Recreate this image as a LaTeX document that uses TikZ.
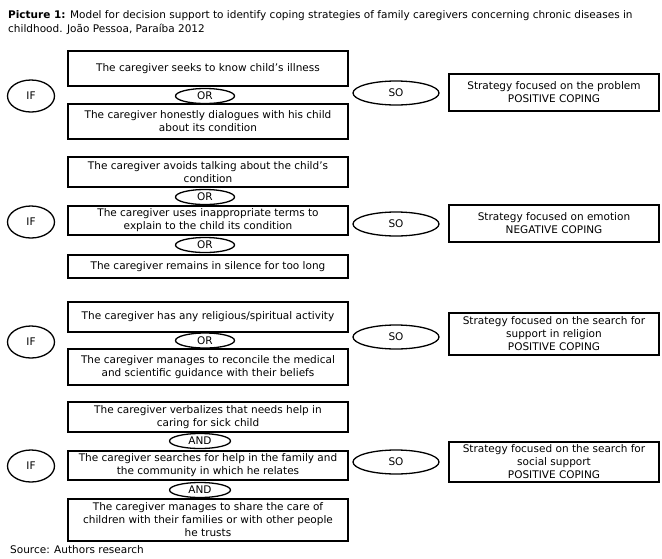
\documentclass[tikz,border=0pt]{standalone}
\usepackage{fontspec}
\setmainfont{DejaVu Sans}
\usetikzlibrary{shapes.geometric}
\newcommand\myapos{\char"27\relax}
\begin{document}
\begin{tikzpicture}[x=1pt,y=-1pt,
  every node/.style={font=\fontsize{10.5}{13}\selectfont, inner sep=0pt},
  cbox/.style={draw, line width=1.4pt, minimum width=280pt, align=center},
  sbox/.style={draw, line width=1.4pt, minimum width=210pt, align=center},
  ell/.style={draw, ellipse, line width=1.3pt},
  ifell/.style={ell, minimum width=47pt, minimum height=32pt},
  soell/.style={ell, minimum width=86pt, minimum height=24pt},
  orell/.style={ell, minimum width=59pt, minimum height=15pt},
  andell/.style={ell, minimum width=61pt, minimum height=15pt},
  txt/.style={anchor=base west}]
\useasboundingbox (0,0) rectangle (662,558);
\fill[white] (0,0) rectangle (662,558);

\node[txt] (title1) at (8,18) {\textbf{Picture 1:} Model for decision support to identify coping strategies of family caregivers concerning chronic diseases in};
\node[txt] (title2) at (8,32) {childhood. João Pessoa, Paraíba 2012};

% Group 1
\node[cbox, minimum height=35pt] (b11) at (208,68.5) {The caregiver seeks to know child\myapos s illness};
\node[orell] (or11) at (205,96) {OR};
\node[cbox, minimum height=35pt] (b12) at (208,121.5) {The caregiver honestly dialogues with his child\\about its condition};
\node[ifell] (if1) at (31,96) {IF};
\node[soell] (so1) at (396,93) {SO};
\node[sbox, minimum height=37pt] (s1) at (554,92.5) {Strategy focused on the problem\\POSITIVE COPING};

% Group 2
\node[cbox, minimum height=30pt] (b21) at (208,172) {The caregiver avoids talking about the child\myapos s\\condition};
\node[orell] (or21) at (205,197) {OR};
\node[cbox, minimum height=29pt] (b22) at (208,220.5) {The caregiver uses inappropriate terms to\\explain to the child its condition};
\node[orell] (or22) at (205,245) {OR};
\node[cbox, minimum height=23pt] (b23) at (208,266.5) {The caregiver remains in silence for too long};
\node[ifell] (if2) at (31,222) {IF};
\node[soell] (so2) at (396,224) {SO};
\node[sbox, minimum height=37pt] (s2) at (554,223.5) {Strategy focused on emotion\\NEGATIVE COPING};

% Group 3
\node[cbox, minimum height=30pt] (b31) at (208,317) {The caregiver has any religious/spiritual activity};
\node[orell] (or31) at (205,340.5) {OR};
\node[cbox, minimum height=36pt] (b32) at (208,367) {The caregiver manages to reconcile the medical\\and scientific guidance with their beliefs};
\node[ifell] (if3) at (31,342) {IF};
\node[soell] (so3) at (396,337) {SO};
\node[sbox, minimum height=42pt] (s3) at (554,334) {Strategy focused on the search for\\support in religion\\POSITIVE COPING};

% Group 4
\node[cbox, minimum height=30pt] (b41) at (208,417) {The caregiver verbalizes that needs help in\\caring for sick child};
\node[andell] (and41) at (200,441) {AND};
\node[cbox, minimum height=29pt] (b42) at (208,465.5) {The caregiver searches for help in the family and\\the community in which he relates};
\node[andell] (and42) at (200,490) {AND};
\node[cbox, minimum height=42pt] (b43) at (208,520) {The caregiver manages to share the care of\\children with their families or with other people\\he trusts};
\node[ifell] (if4) at (31,466) {IF};
\node[soell] (so4) at (396,462) {SO};
\node[sbox, minimum height=40pt] (s4) at (554,462) {Strategy focused on the search for\\social support\\POSITIVE COPING};

\node[txt] (src) at (10,553) {Source: Authors research};
\end{tikzpicture}
\end{document}
